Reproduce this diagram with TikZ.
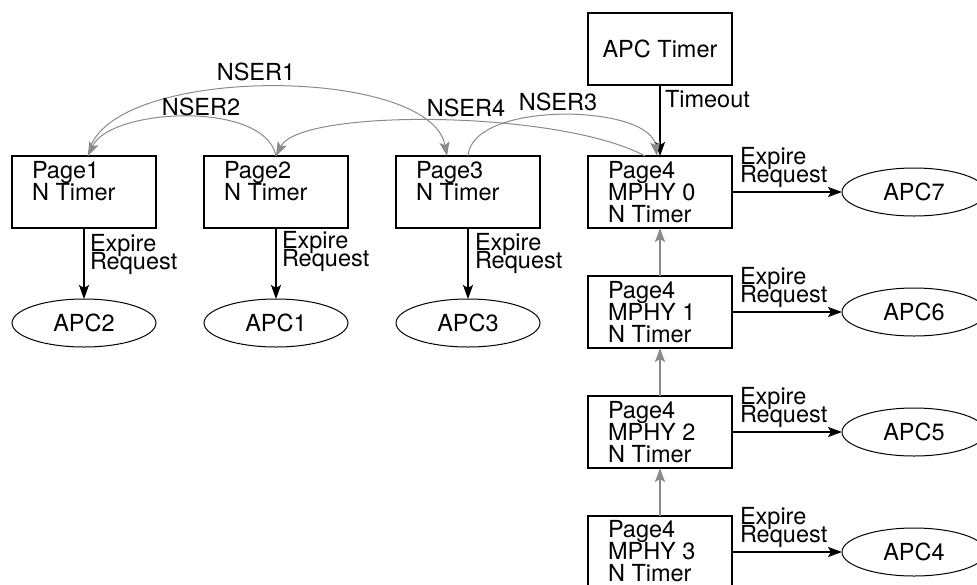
\documentclass[tikz,border=0pt]{standalone}
\usepackage{fontspec}
\setmainfont{TeX Gyre Heros}
\usetikzlibrary{arrows.meta,calc,shapes.geometric}
\definecolor{linegray}{HTML}{8A8A8A}
\newcommand\mytightlines{\lineskiplimit -30pt\relax}
\begin{document}
\begin{tikzpicture}[x=1pt,y=-1pt,
  every node/.style={font=\fontsize{23.5}{22}\selectfont, inner sep=0pt, outer sep=0pt},
  box/.style={draw, line width=1.6pt, minimum width=144pt, minimum height=72pt},
  oval/.style={draw, ellipse, line width=1pt, minimum width=144pt, minimum height=48pt},
  boxtext/.style={anchor=north west, align=left, font=\fontsize{23.5}{22}\selectfont\mytightlines},
  lbl/.style={anchor=north west, align=left, font=\fontsize{23.5}{18}\selectfont\mytightlines},
  blackarrow/.style={line width=1.6pt, -{Stealth[length=14pt,width=10pt,inset=3pt]}},
  grayarrow/.style={draw=linegray, line width=1.6pt, -{Stealth[length=14pt,width=10pt,inset=3pt]}},
  graycurve/.style={draw=linegray, line width=1pt, -{Stealth[length=14pt,width=10pt,inset=3pt]}}
]
\useasboundingbox (0,0) rectangle (977,584);

% boxes
\node[box] (p1) at (84,192) {};
\node[box] (p2) at (276,192) {};
\node[box] (p3) at (468,192) {};
\node[box] (m0) at (660,192) {};
\node[box] (m1) at (660,312) {};
\node[box] (m2) at (660,432) {};
\node[box] (m3) at (660,552) {};
\node[box] (timer) at (660,49) {APC Timer};

% box texts
\node[boxtext] (p1t) at ($(p1.north west)+(20,5)$) {Page1\\N Timer};
\node[boxtext] (p2t) at ($(p2.north west)+(20,5)$) {Page2\\N Timer};
\node[boxtext] (p3t) at ($(p3.north west)+(20,5)$) {Page3\\N Timer};
\node[boxtext] (m0t) at ($(m0.north west)+(20,5)$) {Page4\\MPHY 0\\N Timer};
\node[boxtext] (m1t) at ($(m1.north west)+(20,5)$) {Page4\\MPHY 1\\N Timer};
\node[boxtext] (m2t) at ($(m2.north west)+(20,5)$) {Page4\\MPHY 2\\N Timer};
\node[boxtext] (m3t) at ($(m3.north west)+(20,4)$) {Page4\\MPHY 3\\N Timer};

% ellipses
\node[oval] (apc2) at (84,323) {APC2};
\node[oval] (apc1) at (276,323) {APC1};
\node[oval] (apc3) at (468,323) {APC3};
\node[oval] (apc7) at (914,192) {APC7};
\node[oval] (apc6) at (914,312) {APC6};
\node[oval] (apc5) at (914,432) {APC5};
\node[oval] (apc4) at (914,552) {APC4};

% expire arrows (vertical)
\draw[blackarrow] (p1.south) -- (apc2.north);
\draw[blackarrow] (p2.south) -- (apc1.north);
\draw[blackarrow] (p3.south) -- (apc3.north);
\node[lbl] (l1) at ($(p1.south)+(6,6)$) {Expire\\Request};
\node[lbl] (l2) at ($(p2.south)+(6,3)$) {Expire\\Request};
\node[lbl] (l3) at ($(p3.south)+(7,5)$) {Expire\\Request};

% expire arrows (horizontal)
\draw[blackarrow] (m0.east) -- (apc7.west);
\draw[blackarrow] (m1.east) -- (apc6.west);
\draw[blackarrow] (m2.east) -- (apc5.west);
\draw[blackarrow] (m3.east) -- (apc4.west);
\node[lbl] (l7) at ($(m0.east)+(8,-44.5)$) {Expire\\Request};
\node[lbl] (l6) at ($(m1.east)+(8,-44.5)$) {Expire\\Request};
\node[lbl] (l5) at ($(m2.east)+(8,-44.5)$) {Expire\\Request};
\node[lbl] (l4) at ($(m3.east)+(8,-44.5)$) {Expire\\Request};

% timeout
\draw[blackarrow] (timer.south) -- (m0.north);
\node[anchor=base west] (tout) at ($(timer.south)+(5,22)$) {Timeout};

% gray chain
\draw[grayarrow] (m1.north) -- (m0.south);
\draw[grayarrow] (m2.north) -- (m1.south);
\draw[grayarrow] (m3.north) -- (m2.south);

% curve end points
\coordinate (p1in) at ($(p1.north)+(4,0)$);
\coordinate (p3in) at ($(p3.north)+(-21,0)$);
\coordinate (m0out) at ($(m0.north)+(-15,0)$);
\coordinate (m0in) at ($(m0.north)+(-3,0)$);

% NSER curves
\draw[graycurve] (p1in) .. controls (100,64) and (430,64) .. (p3in);
\draw[graycurve] (p2.north) .. controls (265,100) and (110,108) .. (p1in);
\draw[graycurve] (m0out) .. controls (560,110) and (300,108) .. (p2.north);
\draw[graycurve] (p3.north) .. controls (472,100) and (650,104) .. (m0in);

\node (n1) at (256,72) {NSER1};
\node (n2) at (201,107) {NSER2};
\node (n4) at (466,108) {NSER4};
\node (n3) at (558,102) {NSER3};
\end{tikzpicture}
\end{document}
